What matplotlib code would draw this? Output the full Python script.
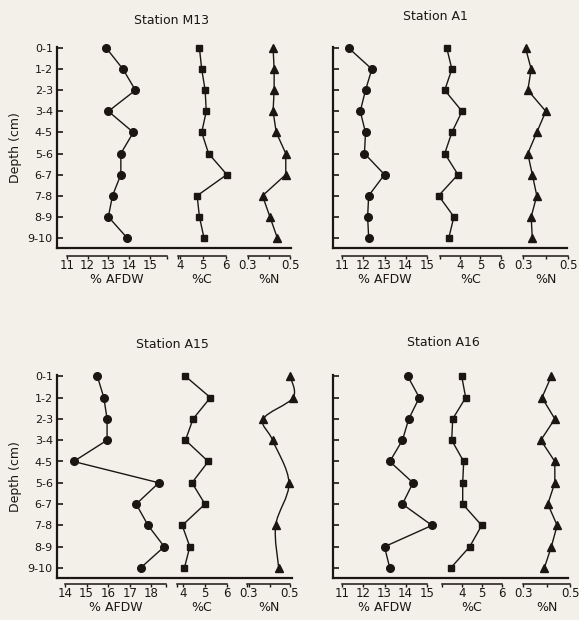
import matplotlib
matplotlib.use("Agg")
import matplotlib.pyplot as plt
import numpy as np
from matplotlib.path import Path
from matplotlib.patches import PathPatch

W, H = 579, 620
ink = '#1b1612'
paper = '#f2f0e9'
plt.rcParams['font.family'] = 'DejaVu Sans'

depths = ['0-1', '1-2', '2-3', '3-4', '4-5', '5-6', '6-7', '7-8', '8-9', '9-10']
rows = np.arange(10)

# values
m13_afdw = [12.9, 13.7, 14.3, 13.0, 14.2, 13.6, 13.6, 13.2, 13.0, 13.9]
m13_c = [4.85, 4.95, 5.1, 5.15, 4.95, 5.25, 6.05, 4.75, 4.85, 5.05]
m13_n = [0.42, 0.425, 0.425, 0.42, 0.435, 0.48, 0.48, 0.37, 0.405, 0.44]

a1_afdw = [11.3, 12.4, 12.1, 11.85, 12.1, 12.05, 13.0, 12.25, 12.2, 12.25]
a1_c = [3.35, 3.6, 3.25, 4.1, 3.6, 3.25, 3.9, 2.95, 3.7, 3.45]
a1_n = [0.31, 0.335, 0.32, 0.40, 0.36, 0.32, 0.34, 0.36, 0.335, 0.34]

a15_afdw = [15.5, 15.8, 15.95, 15.95, 14.4, 18.35, 17.3, 17.85, 18.6, 17.5]
a15_c = [4.1, 5.25, 4.45, 4.1, 5.15, 4.4, 5.0, 3.95, 4.3, 4.05]
a15_n_rows = [0, 1, 2, 3, 5, 7, 9]
a15_n = [0.50, 0.515, 0.37, 0.415, 0.495, 0.43, 0.445]

a16_afdw = [14.1, 14.65, 14.15, 13.85, 13.25, 14.35, 13.85, 15.25, 13.0, 13.25]
a16_c = [4.0, 4.2, 3.55, 3.5, 4.1, 4.05, 4.05, 5.0, 4.4, 3.45]
a16_n = [0.42, 0.38, 0.435, 0.375, 0.435, 0.435, 0.405, 0.445, 0.42, 0.39]

afdw_ticks_a = [11, 12, 13, 14, 15]
afdw_ticks_b = [14, 15, 16, 17, 18]
c_ticks = [4, 5, 6]
n_ticks = [0.3, 0.4, 0.5]
n_labels = ['0.3', '', '0.5']

fig = plt.figure(figsize=(W / 100, H / 100), dpi=100)
fig.patch.set_facecolor(paper)


def px_axes(x0, y0, x1, y1):
    ax = fig.add_axes([x0 / W, 1 - y1 / H, (x1 - x0) / W, (y1 - y0) / H])
    ax.patch.set_alpha(0)
    return ax


def catmull(ax, xs, ys):
    p = np.column_stack([xs, ys]).astype(float)
    p = np.vstack([p[0], p, p[-1]])
    verts = [p[1]]
    codes = [Path.MOVETO]
    for i in range(1, len(p) - 2):
        c1 = p[i] + (p[i + 1] - p[i - 1]) / 6
        c2 = p[i + 1] - (p[i + 2] - p[i]) / 6
        verts += [c1, c2, p[i + 1]]
        codes += [Path.CURVE4] * 3
    ax.add_patch(PathPatch(Path(verts, codes), fill=False, ec=ink, lw=1.0,
                           clip_on=False))


def panel(title, tx, ty, sx, ex, row0, step, base, bar, labels_left,
          series):
    def r(p):
        return (p - row0) / step

    top = row0 - 1.5
    fr = px_axes(sx, top, ex, base)
    fr.set_ylim(r(base), r(top))
    fr.set_xticks([])
    for s in ['top', 'right']:
        fr.spines[s].set_visible(False)
    for s in ['left', 'bottom']:
        fr.spines[s].set_linewidth(1.6)
        fr.spines[s].set_color(ink)
    fr.set_yticks(rows)
    fr.tick_params(axis='y', direction='in', length=4, width=1.2, color=ink,
                   labelsize=8, labelcolor=ink, pad=3)
    if labels_left:
        fr.set_yticklabels(depths)
        fr.set_ylabel('Depth (cm)', fontsize=9, color=ink, labelpad=4)
    else:
        fr.set_yticklabels([])
    fig.text(tx / W, 1 - ty / H, title, ha='center', va='center',
             fontsize=9, color=ink)

    for (yr, vals, mk, ms, lab, a, b, lo, hi, ticks, tlabels, curve) in series:
        (v0, p0), (v1, p1) = a, b
        ppu = (p1 - p0) / (v1 - v0)
        x0 = p0 + (lo - v0) * ppu
        x1 = p0 + (hi - v0) * ppu
        ax = px_axes(x0, top, x1, bar)
        ax.set_xlim(lo, hi)
        ax.set_ylim(r(bar), r(top))
        if curve:
            catmull(ax, vals, yr)
        else:
            ax.plot(vals, yr, '-', color=ink, lw=1.0, clip_on=False)
        ax.plot(vals, yr, mk, color=ink, ms=ms, ls='none', clip_on=False)
        for s in ['top', 'right', 'left']:
            ax.spines[s].set_visible(False)
        ax.spines['bottom'].set_linewidth(1.1)
        ax.spines['bottom'].set_color(ink)
        ax.set_yticks([])
        ax.set_xticks(ticks)
        ax.set_xticklabels(tlabels if tlabels else [str(t) for t in ticks])
        ax.set_xticks([lo, hi], minor=True)
        ax.tick_params(axis='x', which='both', direction='out', length=2.5,
                       width=1.0, color=ink, labelsize=8.5, labelcolor=ink,
                       pad=0)
        ax.set_xlabel(lab, fontsize=9, color=ink, labelpad=0.5)


panel('Station M13', 172, 20, 57, 291, 48, 21.1, 248, 255.5, True, [
    (rows, m13_afdw, 'o', 5.5, '% AFDW', (11, 66.7), (15, 150), 11, 15.8,
     afdw_ticks_a, None, False),
    (rows, m13_c, 's', 5, '%C', (4, 180), (6, 225.7), 3.9, 6.0,
     c_ticks, None, False),
    (rows, m13_n, '^', 6, '%N', (0.3, 247.7), (0.5, 290), 0.3, 0.5,
     n_ticks, n_labels, False),
])

panel('Station A1', 435, 16, 333, 567, 48, 21.1, 248, 255.5, False, [
    (rows, a1_afdw, 'o', 5.5, '% AFDW', (11, 342.3), (15, 426.7), 11, 15,
     afdw_ticks_a, None, False),
    (rows, a1_c, 's', 5, '%C', (4, 460), (6, 500.7), 3, 6,
     c_ticks, None, False),
    (rows, a1_n, '^', 6, '%N', (0.3, 523.3), (0.5, 568.3), 0.3, 0.5,
     n_ticks, n_labels, False),
])

panel('Station A15', 172, 345, 57, 292, 376.3, 21.3, 578.3, 584, True, [
    (rows, a15_afdw, 'o', 5.5, '% AFDW', (14, 65), (18, 151.3), 14, 18.7,
     afdw_ticks_b, None, False),
    (rows, a15_c, 's', 5, '%C', (4, 183.3), (6, 226.7), 3.72, 6.0,
     c_ticks, None, False),
    (a15_n_rows, a15_n, '^', 6, '%N', (0.3, 249), (0.5, 290), 0.292, 0.5,
     n_ticks, n_labels, True),
])

panel('Station A16', 443, 343, 333, 568, 376.3, 21.3, 578.3, 584, False, [
    (rows, a16_afdw, 'o', 5.5, '% AFDW', (11, 342.3), (15, 426.7), 11, 15,
     afdw_ticks_a, None, False),
    (rows, a16_c, 's', 5, '%C', (4, 461.7), (6, 501.7), 3, 6,
     c_ticks, None, False),
    (rows, a16_n, '^', 6, '%N', (0.3, 523.3), (0.5, 570), 0.3, 0.5,
     n_ticks, n_labels, False),
])

fig.savefig('out.png', dpi=100, facecolor=paper)
